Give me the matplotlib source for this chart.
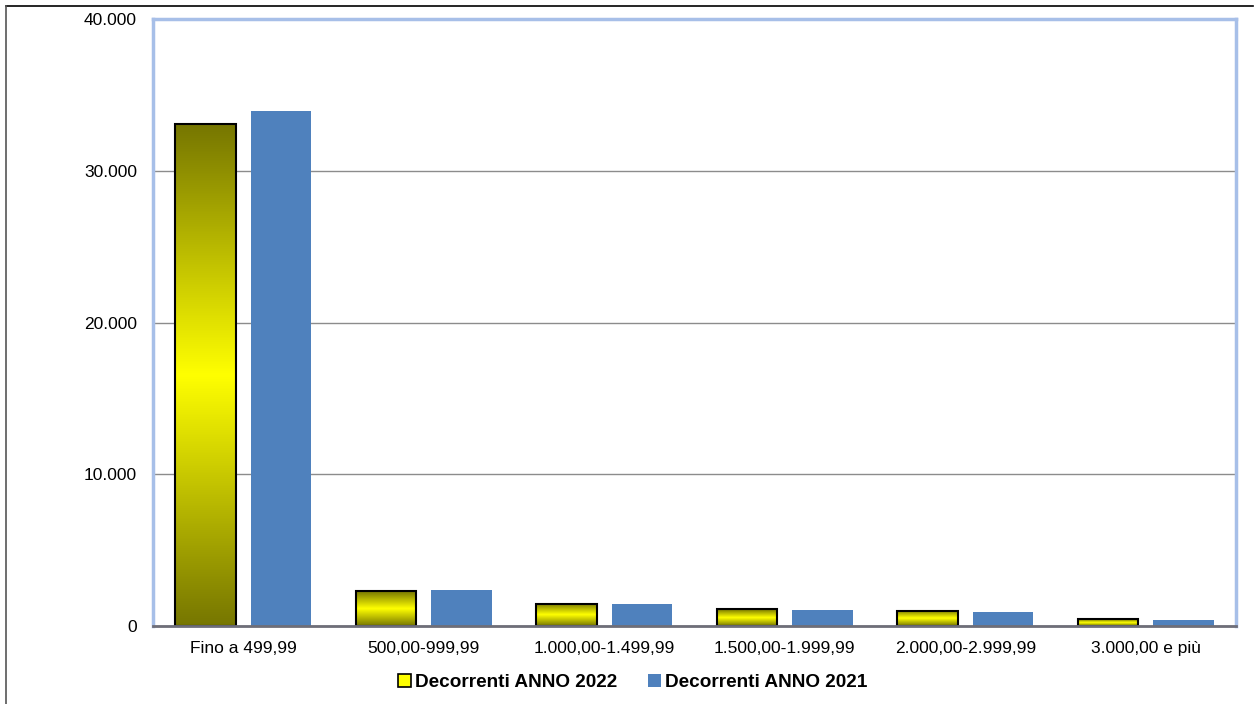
import numpy as np
import matplotlib.pyplot as plt
from matplotlib.colors import LinearSegmentedColormap
from matplotlib.lines import Line2D
from matplotlib.patches import Patch

plt.rcParams['font.family'] = ['Liberation Sans', 'DejaVu Sans']

categories = ['Fino a 499,99', '500,00-999,99', '1.000,00-1.499,99',
              '1.500,00-1.999,99', '2.000,00-2.999,99', '3.000,00 e più']
anno_2022 = [33080, 2300, 1450, 1100, 1010, 440]
anno_2021 = [33930, 2370, 1460, 1080, 940, 380]

fig = plt.figure(figsize=(12.55, 7.04), dpi=100)
ax = fig.add_axes([0.1219, 0.1108, 0.9849 - 0.1219, 0.973 - 0.1108])

x = np.arange(len(categories))
w = 0.335
off = 0.21

# gradient olive -> yellow -> olive
cmap = LinearSegmentedColormap.from_list('oy', ['#767600', '#ffff00', '#767600'])
grad = np.linspace(0, 1, 256).reshape(-1, 1)

bars22 = ax.bar(x - off, anno_2022, w, facecolor='none', edgecolor='black',
                linewidth=1.5, zorder=4)
for b in bars22:
    x0, y0 = b.get_x(), b.get_y()
    im = ax.imshow(grad, cmap=cmap, aspect='auto', origin='lower',
                   extent=[x0, x0 + b.get_width(), y0, y0 + b.get_height()],
                   zorder=3)
    im.set_clip_path(b)

ax.bar(x + off, anno_2021, w, color='#4f81bd', zorder=3)

ax.set_xlim(-0.5, len(categories) - 0.5)
ax.set_ylim(0, 40000)
ax.set_yticks([0, 10000, 20000, 30000, 40000])
ax.set_yticklabels(['0', '10.000', '20.000', '30.000', '40.000'])
ax.set_xticks(x)
ax.set_xticklabels(categories)
ax.tick_params(axis='both', length=0, labelsize=12.5)
ax.tick_params(axis='y', pad=11.5)
ax.tick_params(axis='x', pad=11)
ax.yaxis.grid(True, color='#8c8c8c', linewidth=1, zorder=0)
ax.set_axisbelow(True)

for s in ['top', 'right', 'left']:
    ax.spines[s].set_color('#a7bfe8')
    ax.spines[s].set_linewidth(2.5)
ax.spines['bottom'].set_color('#6e6e78')
ax.spines['bottom'].set_linewidth(2)
ax.spines['bottom'].set_zorder(5)

handles = [Patch(facecolor='#ffff00', edgecolor='black', linewidth=1.2),
           Patch(facecolor='#4f81bd', edgecolor='none')]
fig.legend(handles, ['Decorrenti ANNO 2022', 'Decorrenti ANNO 2021'],
           loc='center', bbox_to_anchor=(0.504, 0.031), ncol=2, frameon=False,
           prop={'weight': 'bold', 'size': 13.7}, handlelength=0.7,
           handleheight=0.7, handletextpad=0.2, columnspacing=1.6)

# outer frame
fig.add_artist(Line2D([6 / 1255, 1253 / 1255], [1 - 6 / 704, 1 - 6 / 704],
                      transform=fig.transFigure, color='black', linewidth=1.2))
fig.add_artist(Line2D([6 / 1255, 6 / 1255], [0, 1 - 6 / 704],
                      transform=fig.transFigure, color='#555555', linewidth=1.2))

fig.savefig('out.png', dpi=100)
